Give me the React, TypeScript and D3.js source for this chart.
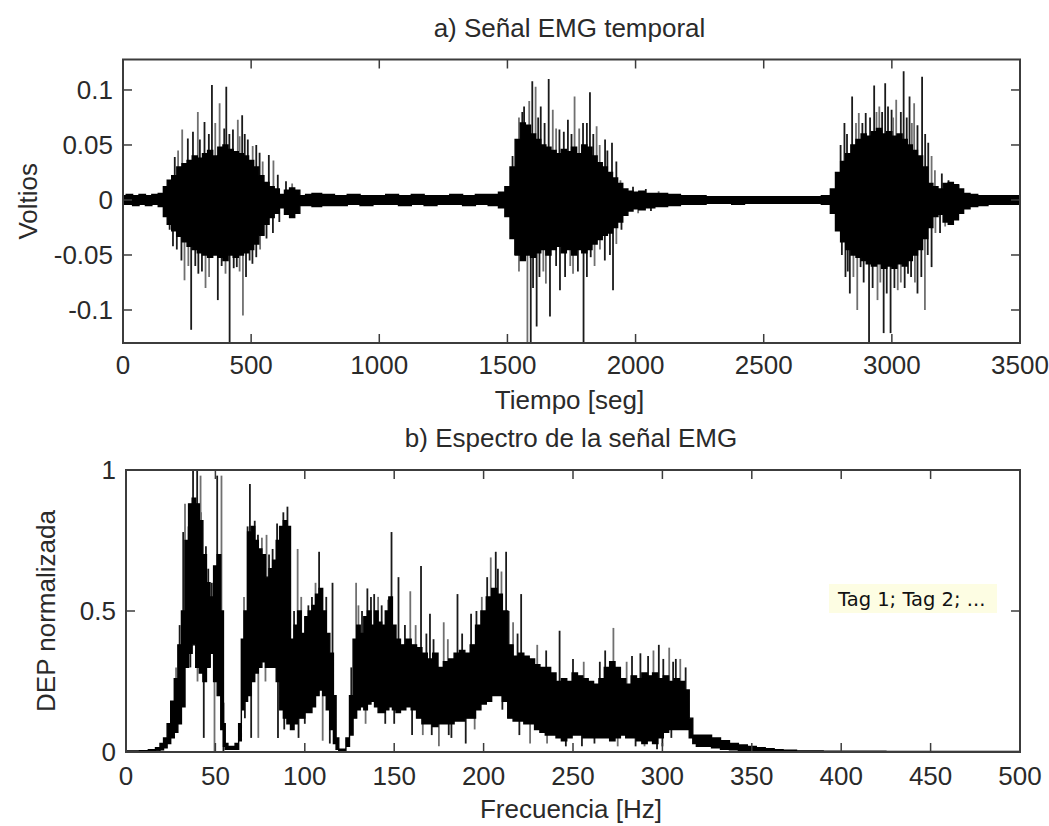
import React from "react";
import * as d3 from "d3";

const W = 1049;
const H = 826;

// ---------- a) Señal EMG temporal ----------
const emgTimeTicks = [0, 500, 1000, 1500, 2000, 2500, 3000, 3500];
const emgValueTicks = [-0.1, -0.05, 0, 0.05, 0.1];
const emgValueTickLabels = ["-0.1", "-0.05", "0", "0.05", "0.1"];

// envelope of the dense signal core (time in s, volts)
const emgTime = [
  0, 25, 50, 75, 100, 125, 150, 165, 180, 200, 220, 240, 260, 280, 300, 320, 340, 360, 380, 400,
  420, 440, 460, 480, 500, 520, 540, 560, 580, 600, 620, 640, 660, 680, 700, 725, 750, 800, 850, 900,
  950, 1000, 1050, 1100, 1150, 1200, 1250, 1300, 1350, 1400, 1450, 1480, 1500, 1520, 1540, 1560, 1580, 1600, 1620, 1640,
  1660, 1680, 1700, 1720, 1740, 1760, 1780, 1800, 1820, 1840, 1860, 1880, 1900, 1920, 1940, 1960, 1980, 2000, 2025, 2050,
  2100, 2150, 2200, 2250, 2300, 2350, 2400, 2450, 2500, 2550, 2600, 2650, 2700, 2750, 2770, 2790, 2810, 2830, 2850, 2870,
  2890, 2910, 2930, 2950, 2970, 2990, 3010, 3030, 3050, 3070, 3090, 3110, 3130, 3150, 3170, 3190, 3210, 3230, 3250, 3270,
  3290, 3320, 3350, 3400, 3450, 3500,
];
const emgUpper = [
  0.004, 0.005, 0.004, 0.005, 0.004, 0.005, 0.006, 0.012, 0.018, 0.022, 0.03, 0.033, 0.036, 0.04, 0.038, 0.042, 0.045, 0.04, 0.048, 0.05,
  0.046, 0.044, 0.042, 0.04, 0.036, 0.03, 0.022, 0.016, 0.012, 0.01, 0.005, 0.009, 0.011, 0.009, 0.004, 0.005, 0.006, 0.005, 0.004, 0.005,
  0.004, 0.004, 0.005, 0.004, 0.005, 0.004, 0.004, 0.005, 0.004, 0.005, 0.005, 0.007, 0.012, 0.03, 0.055, 0.07, 0.068, 0.06, 0.055, 0.05,
  0.048, 0.045, 0.042, 0.046, 0.044, 0.048, 0.042, 0.05, 0.048, 0.04, 0.034, 0.03, 0.025, 0.02, 0.015, 0.01, 0.008, 0.007, 0.008, 0.006,
  0.006, 0.005, 0.004, 0.004, 0.003, 0.003, 0.003, 0.003, 0.003, 0.003, 0.003, 0.003, 0.003, 0.004, 0.01, 0.025, 0.035, 0.042, 0.05, 0.055,
  0.06, 0.058, 0.062, 0.065, 0.06, 0.062, 0.058, 0.06, 0.055, 0.05, 0.045, 0.04, 0.03, 0.015, 0.012, 0.01, 0.015, 0.016, 0.014, 0.01,
  0.006, 0.005, 0.004, 0.004, 0.004, 0.004,
];
const emgLower = [
  -0.004, -0.004, -0.005, -0.004, -0.005, -0.004, -0.006, -0.015, -0.022, -0.028, -0.033, -0.038, -0.042, -0.045, -0.048, -0.05, -0.052, -0.05, -0.052, -0.055,
  -0.05, -0.052, -0.05, -0.048, -0.045, -0.04, -0.032, -0.022, -0.016, -0.012, -0.007, -0.013, -0.016, -0.012, -0.005, -0.005, -0.006, -0.005, -0.005, -0.004,
  -0.005, -0.004, -0.004, -0.005, -0.004, -0.005, -0.004, -0.004, -0.005, -0.004, -0.005, -0.007, -0.015, -0.035, -0.05, -0.055, -0.05, -0.052, -0.048, -0.045,
  -0.05, -0.045, -0.042, -0.048, -0.045, -0.05, -0.045, -0.048, -0.045, -0.04, -0.036, -0.032, -0.03, -0.025, -0.02, -0.014, -0.01, -0.008, -0.009, -0.007,
  -0.006, -0.005, -0.004, -0.004, -0.003, -0.003, -0.004, -0.003, -0.003, -0.003, -0.003, -0.003, -0.003, -0.004, -0.012, -0.028, -0.038, -0.045, -0.05, -0.052,
  -0.055, -0.058, -0.06, -0.058, -0.062, -0.06, -0.062, -0.058, -0.06, -0.055, -0.05, -0.045, -0.035, -0.025, -0.015, -0.013, -0.02, -0.022, -0.018, -0.012,
  -0.008, -0.006, -0.005, -0.004, -0.004, -0.004,
];
// visible spikes beyond the core
const emgSpikeTime = [
  202, 231, 253, 273, 292, 318, 347, 377, 403, 429, 448, 465, 487, 506, 533, 569, 587, 604, 636, 660,
  182, 195, 240, 266, 294, 322, 350, 370, 400, 416, 444, 468, 494, 520, 548, 585, 610,
  215, 300, 335, 360, 395, 415, 455, 475, 520, 545,
  210, 228, 255, 282, 308, 336, 385, 432, 455, 480, 505, 535, 560,
  1520, 1545, 1558, 1597, 1610, 1630, 1661, 1677, 1703, 1736, 1762, 1795, 1822, 1848, 1881, 1908, 1941, 1990, 2040, 2090,
  1530, 1562, 1578, 1591, 1614, 1650, 1666, 1705, 1756, 1797, 1825, 1861, 1912, 1945, 2010, 2060,
  1565, 1585, 1620, 1645, 1690, 1720, 1750, 1780, 1810, 1835, 1860, 1890, 1925,
  1545, 1600, 1625, 1640, 1690, 1725, 1745, 1775, 1810, 1840, 1880, 1900, 1925,
  2815, 2845, 2871, 2898, 2931, 2951, 2974, 2999, 3017, 3046, 3069, 3087, 3118, 3142, 3168, 3195, 3221, 3261,
  2819, 2836, 2865, 2878, 2911, 2944, 2968, 2995, 3023, 3063, 3100, 3129, 3155, 3188, 3208,
  2800, 2825, 2860, 2885, 2915, 2940, 2962, 2985, 3005, 3035, 3058, 3078, 3100, 3130, 3155,
  2805, 2828, 2850, 2890, 2925, 2955, 2980, 3010, 3035, 3050, 3075, 3090, 3115, 3140, 3170,
];
const emgSpikeValue = [
  0.039, 0.064, 0.056, 0.062, 0.08, 0.071, 0.1045, 0.088, 0.103, 0.064, 0.073, 0.077, 0.055, 0.049, 0.043, 0.041, 0.036, 0.023, 0.017, 0.015,
  -0.027, -0.042, -0.073, -0.118, -0.067, -0.08, -0.05, -0.091, -0.067, -0.13, -0.061, -0.105, -0.055, -0.052, -0.032, -0.03, -0.02,
  0.045, 0.055, 0.06, 0.07, 0.065, 0.06, 0.058, 0.06, 0.05, 0.035,
  -0.045, -0.055, -0.06, -0.06, -0.065, -0.07, -0.06, -0.062, -0.065, -0.07, -0.058, -0.045, -0.035,
  0.04, 0.075, 0.08, 0.108, 0.103, 0.085, 0.11, 0.082, 0.064, 0.073, 0.094, 0.07, 0.098, 0.067, 0.055, 0.052, 0.018, 0.012, 0.01, 0.008,
  -0.05, -0.042, -0.13, -0.13, -0.115, -0.076, -0.106, -0.082, -0.067, -0.13, -0.052, -0.045, -0.082, -0.027, -0.012, -0.01,
  0.085, 0.09, 0.075, 0.07, 0.065, 0.062, 0.06, 0.065, 0.07, 0.06, 0.05, 0.045, 0.035,
  -0.065, -0.08, -0.07, -0.065, -0.06, -0.07, -0.06, -0.065, -0.07, -0.06, -0.055, -0.05, -0.04,
  0.07, 0.094, 0.079, 0.079, 0.104, 0.085, 0.106, 0.082, 0.091, 0.117, 0.094, 0.088, 0.112, 0.052, 0.027, 0.024, 0.018, 0.014,
  -0.07, -0.085, -0.1, -0.061, -0.13, -0.091, -0.121, -0.121, -0.082, -0.067, -0.085, -0.1, -0.061, -0.03, -0.024,
  0.05, 0.06, 0.07, 0.07, 0.075, 0.08, 0.08, 0.085, 0.075, 0.08, 0.075, 0.07, 0.068, 0.06, 0.04,
  -0.05, -0.065, -0.07, -0.075, -0.08, -0.075, -0.085, -0.08, -0.075, -0.08, -0.07, -0.075, -0.07, -0.05, -0.03,
];

// ---------- b) Espectro de la señal EMG ----------
const freqTicks = [0, 50, 100, 150, 200, 250, 300, 350, 400, 450, 500];
const psdTicks = [0, 0.5, 1];
const psdTickLabels = ["0", "0.5", "1"];

const freqKnots = [
  0, 5, 10, 15, 18, 20, 22, 24, 26, 28, 30, 32, 34, 36, 38, 40, 42, 44, 46, 48,
  50, 52, 54, 55, 56, 58, 60, 62, 64, 65, 67, 69, 71, 73, 75, 77, 79, 81, 83, 85,
  87, 89, 91, 93, 95, 97, 99, 101, 103, 105, 107, 109, 111, 113, 115, 117, 118, 120, 122, 124,
  126, 128, 130, 132, 134, 136, 138, 140, 142, 144, 146, 148, 150, 152, 155, 158, 161, 164, 167, 170,
  173, 176, 179, 182, 185, 188, 191, 194, 197, 200, 203, 206, 209, 212, 215, 218, 221, 224, 227, 230,
  233, 236, 239, 242, 245, 248, 251, 254, 257, 260, 263, 266, 269, 272, 275, 278, 281, 284, 287, 290,
  293, 296, 299, 302, 305, 308, 311, 314, 316, 318, 320, 325, 330, 335, 340, 345, 350, 355, 360, 365,
  370, 380, 400, 450, 500,
];
const psdUpper = [
  0.004, 0.004, 0.005, 0.008, 0.015, 0.03, 0.05, 0.1, 0.18, 0.26, 0.38, 0.5, 0.75, 0.88, 0.9, 0.88, 0.82, 0.7, 0.6, 0.55,
  0.66, 0.7, 0.5, 0.1, 0.03, 0.02, 0.02, 0.03, 0.1, 0.4, 0.5, 0.78, 0.8, 0.75, 0.72, 0.7, 0.62, 0.65, 0.68, 0.75,
  0.8, 0.82, 0.8, 0.4, 0.45, 0.5, 0.42, 0.48, 0.5, 0.52, 0.56, 0.58, 0.5, 0.42, 0.35, 0.2, 0.05, 0.01, 0.01, 0.05,
  0.2, 0.4, 0.45, 0.42, 0.48, 0.5, 0.45, 0.5, 0.46, 0.45, 0.5, 0.55, 0.45, 0.4, 0.38, 0.4, 0.38, 0.37, 0.35, 0.33,
  0.35, 0.3, 0.32, 0.33, 0.35, 0.36, 0.35, 0.38, 0.45, 0.5, 0.55, 0.58, 0.56, 0.5, 0.38, 0.34, 0.35, 0.34, 0.33, 0.31,
  0.3, 0.3, 0.28, 0.25, 0.26, 0.25, 0.28, 0.27, 0.26, 0.25, 0.24, 0.26, 0.3, 0.32, 0.3, 0.26, 0.24, 0.27, 0.26, 0.28,
  0.27, 0.28, 0.26, 0.27, 0.25, 0.26, 0.25, 0.22, 0.12, 0.06, 0.06, 0.06, 0.05, 0.04, 0.03, 0.025, 0.02, 0.015, 0.012, 0.008,
  0.006, 0.004, 0.003, 0.002, 0.002,
];
const psdLower = [
  0, 0, 0, 0.002, 0.004, 0.008, 0.015, 0.03, 0.05, 0.07, 0.1, 0.16, 0.3, 0.35, 0.38, 0.3, 0.28, 0.25, 0.3, 0.35,
  0.25, 0.2, 0.08, 0.02, 0.01, 0.01, 0.01, 0.01, 0.04, 0.15, 0.18, 0.2, 0.25, 0.28, 0.3, 0.32, 0.3, 0.3, 0.3, 0.25,
  0.15, 0.12, 0.1, 0.08, 0.1, 0.12, 0.12, 0.14, 0.14, 0.16, 0.2, 0.22, 0.2, 0.15, 0.08, 0.03, 0.01, 0, 0, 0.02,
  0.06, 0.12, 0.15, 0.16, 0.15, 0.17, 0.18, 0.16, 0.14, 0.14, 0.15, 0.16, 0.15, 0.14, 0.15, 0.16, 0.15, 0.12, 0.1, 0.1,
  0.09, 0.1, 0.1, 0.1, 0.11, 0.11, 0.12, 0.12, 0.15, 0.17, 0.18, 0.2, 0.2, 0.18, 0.12, 0.11, 0.11, 0.1, 0.1, 0.08,
  0.07, 0.06, 0.06, 0.05, 0.04, 0.05, 0.06, 0.06, 0.05, 0.05, 0.05, 0.05, 0.05, 0.04, 0.05, 0.06, 0.05, 0.05, 0.04, 0.03,
  0.04, 0.03, 0.05, 0.07, 0.08, 0.08, 0.08, 0.08, 0.05, 0.03, 0.02, 0.02, 0.015, 0.01, 0.008, 0.005, 0.005, 0.003, 0.002, 0.002,
  0.001, 0, 0, 0, 0,
];
const psdSpikeFreq = [
  32, 33, 37.5, 39.8, 41.7, 44.7, 51, 53.4, 69.3, 73.8, 78.6, 84.5, 90.3, 96, 108, 115.5, 128.7, 135, 138.8, 146.6,
  148.5, 152.4, 159, 165, 170, 177.7, 185.4, 193, 204, 206.8, 212.6, 216.5, 221, 242.5, 272.6, 287.7, 298, 303.8, 307.5,
  43.5, 49.5, 54.5, 70, 74, 85, 96.5, 110, 114, 160, 175, 182, 190, 226, 246, 262, 275, 297, 300,
  28, 30, 35, 42, 46, 48, 66, 68, 72, 76, 80, 82, 86, 88, 94, 98, 102, 104, 106, 112,
  126, 130, 132, 137, 141, 143, 156, 162, 168, 172, 180, 188, 196, 199, 202, 208, 210, 214, 219, 230,
  235, 250, 256, 265, 268, 280, 283, 292, 295, 300.5, 306, 310, 313,
  36, 40, 47, 66.5, 78, 88.5, 100, 134, 145, 150, 166, 171, 180.5, 195, 210.5, 220, 235.5, 255, 285, 290, 305,
];
const psdSpikeValue = [
  0.78, 0.88, 1.0, 1.0, 0.98, 0.73, 0.98, 0.98, 0.95, 0.77, 0.77, 0.81, 0.87, 0.72, 0.71, 0.6, 0.6, 0.58, 0.56, 0.54,
  0.78, 0.62, 0.57, 0.66, 0.49, 0.46, 0.56, 0.49, 0.69, 0.71, 0.71, 0.46, 0.56, 0.43, 0.44, 0.35, 0.38, 0.37, 0.33,
  0.05, 0.0, 0.0, 0.05, 0.05, 0.05, 0.05, 0.04, 0.03, 0.06, 0.02, 0.05, 0.03, 0.03, 0.02, 0.03, 0.02, 0.01, 0.02,
  0.3, 0.45, 0.8, 0.85, 0.65, 0.6, 0.55, 0.8, 0.82, 0.76, 0.7, 0.72, 0.8, 0.85, 0.5, 0.55, 0.52, 0.55, 0.6, 0.55,
  0.3, 0.52, 0.5, 0.55, 0.55, 0.52, 0.45, 0.45, 0.42, 0.4, 0.4, 0.42, 0.5, 0.55, 0.62, 0.65, 0.64, 0.5, 0.42, 0.38,
  0.36, 0.33, 0.32, 0.32, 0.36, 0.32, 0.34, 0.34, 0.36, 0.33, 0.32, 0.33, 0.3,
  0.3, 0.25, 0.3, 0.12, 0.25, 0.08, 0.1, 0.1, 0.1, 0.1, 0.06, 0.06, 0.06, 0.08, 0.15, 0.06, 0.03, 0.02, 0.02, 0.02, 0.05,
];

const FONT = "'Liberation Sans', Arial, Helvetica, sans-serif";
const TEXT = "#2a2a2a";
const FRAME = "#3c3c3c";
const TICK = 9;
const FS = 26;

type PanelProps = {
  id: string;
  left: number; right: number; top: number; bottom: number;
  xDomain: [number, number]; yDomain: [number, number];
  xTicks: number[]; yTicks: number[]; yTickLabels: string[];
  knots: number[]; upper: number[]; lower: number[];
  spikeX: number[]; spikeV: number[];
  title: string; titleY: number;
  xLabel: string; xLabelY: number; xTickLabelY: number;
  yLabel: string; yLabelX: number;
  flatBase: boolean;
};

function Panel(p: PanelProps) {
  const xs = d3.scaleLinear().domain(p.xDomain).range([p.left, p.right]);
  const ys = d3.scaleLinear().domain(p.yDomain).range([p.bottom, p.top]);
  const idx = p.knots.map((_, i) => i);
  const area = d3
    .area<number>()
    .x((i) => xs(p.knots[i]))
    .y0((i) => ys(p.lower[i]))
    .y1((i) => ys(p.upper[i]))
    .curve(d3.curveStep);
  const mid = d3
    .scaleLinear()
    .domain(p.knots)
    .range(p.knots.map((_, i) => (p.upper[i] + p.lower[i]) / 2));
  const cx = (p.left + p.right) / 2;
  const cy = (p.top + p.bottom) / 2;
  return (
    <g>
      <defs>
        <clipPath id={p.id}>
          <rect x={p.left} y={p.top} width={p.right - p.left} height={p.bottom - p.top} />
        </clipPath>
      </defs>
      <g clipPath={`url(#${p.id})`}>
        {p.spikeX.map((sx, i) => {
          const base = p.flatBase ? 0 : mid(sx);
          return (
            <line
              key={i}
              x1={xs(sx)}
              x2={xs(sx)}
              y1={ys(base)}
              y2={ys(p.spikeV[i])}
              stroke={i % 3 === 1 ? "#707070" : "#1a1a1a"}
              strokeWidth={1.8}
            />
          );
        })}
        <path d={area(idx) || ""} fill="#000" stroke="#000" strokeWidth={1.4} strokeLinejoin="miter" />
      </g>
      <rect x={p.left} y={p.top} width={p.right - p.left} height={p.bottom - p.top} fill="none" stroke={FRAME} strokeWidth={2} />
      {p.xTicks.map((t) => (
        <g key={"x" + t}>
          <line x1={xs(t)} x2={xs(t)} y1={p.bottom} y2={p.bottom - TICK} stroke={FRAME} strokeWidth={1.5} />
          <line x1={xs(t)} x2={xs(t)} y1={p.top} y2={p.top + TICK} stroke={FRAME} strokeWidth={1.5} />
          <text x={xs(t)} y={p.xTickLabelY} textAnchor="middle" fontFamily={FONT} fontSize={FS} fill={TEXT}>
            {String(t)}
          </text>
        </g>
      ))}
      {p.yTicks.map((t, i) => (
        <g key={"y" + t}>
          <line x1={p.left} x2={p.left + TICK} y1={ys(t)} y2={ys(t)} stroke={FRAME} strokeWidth={1.5} />
          <line x1={p.right} x2={p.right - TICK} y1={ys(t)} y2={ys(t)} stroke={FRAME} strokeWidth={1.5} />
          <text x={p.left - 10} y={ys(t)} dy="0.36em" textAnchor="end" fontFamily={FONT} fontSize={FS} fill={TEXT}>
            {p.yTickLabels[i]}
          </text>
        </g>
      ))}
      <text x={cx - 2} y={p.titleY} textAnchor="middle" fontFamily={FONT} fontSize={FS} fill={TEXT}>
        {p.title}
      </text>
      <text x={cx - 2} y={p.xLabelY} textAnchor="middle" fontFamily={FONT} fontSize={FS} fill={TEXT}>
        {p.xLabel}
      </text>
      <text
        transform={`translate(${p.yLabelX},${cy}) rotate(-90)`}
        textAnchor="middle"
        dy="0.36em"
        fontFamily={FONT}
        fontSize={FS}
        fill={TEXT}
      >
        {p.yLabel}
      </text>
    </g>
  );
}

export default function App() {
  return (
    <svg
      width={W}
      height={H}
      viewBox={`0 0 ${W} ${H}`}
      style={{ position: "absolute", left: 0, top: 0, background: "#fff" }}
    >
      <rect x={0} y={0} width={W} height={H} fill="#fff" />
      <Panel
        id="clipA"
        left={123}
        right={1020}
        top={59.5}
        bottom={343}
        xDomain={[0, 3500]}
        yDomain={[-0.13, 0.1277]}
        xTicks={emgTimeTicks}
        yTicks={emgValueTicks}
        yTickLabels={emgValueTickLabels}
        knots={emgTime}
        upper={emgUpper}
        lower={emgLower}
        spikeX={emgSpikeTime}
        spikeV={emgSpikeValue}
        title="a) Señal EMG temporal"
        titleY={37}
        xLabel="Tiempo [seg]"
        xLabelY={409}
        xTickLabelY={374}
        yLabel="Voltios"
        yLabelX={28}
        flatBase={true}
      />
      <Panel
        id="clipB"
        left={126}
        right={1020}
        top={470}
        bottom={752}
        xDomain={[0, 500]}
        yDomain={[0, 1]}
        xTicks={freqTicks}
        yTicks={psdTicks}
        yTickLabels={psdTickLabels}
        knots={freqKnots}
        upper={psdUpper}
        lower={psdLower}
        spikeX={psdSpikeFreq}
        spikeV={psdSpikeValue}
        title="b) Espectro de la señal EMG"
        titleY={447}
        xLabel="Frecuencia [Hz]"
        xLabelY={818}
        xTickLabelY={785}
        yLabel="DEP normalizada"
        yLabelX={46}
        flatBase={false}
      />
      <rect x={829} y={584} width={168} height={29} fill="#fdfde3" />
      <text x={838} y={606} fontFamily="'DejaVu Sans', Tahoma, sans-serif" fontSize={19.5} fill="#111">
        Tag 1; Tag 2; ...
      </text>
    </svg>
  );
}
